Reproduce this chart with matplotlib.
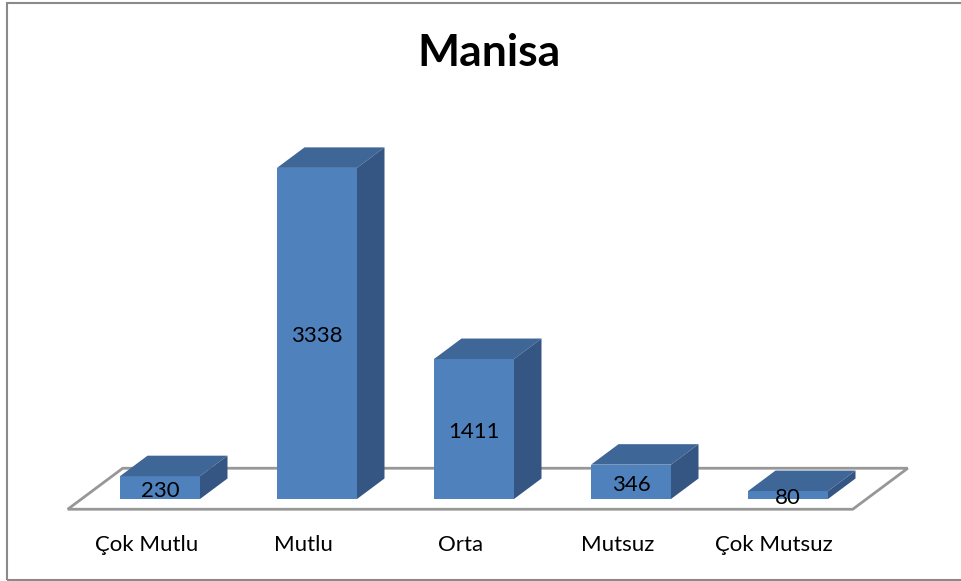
import matplotlib.pyplot as plt
from matplotlib.patches import Polygon, Rectangle
from matplotlib.transforms import offset_copy

plt.rcParams['font.family'] = ['Lato', 'DejaVu Sans']

categories = ['Çok Mutlu', 'Mutlu', 'Orta', 'Mutsuz', 'Çok Mutsuz']
values = [230, 3338, 1411, 346, 80]
title = 'Manisa'

front_color = '#4F81BD'
top_color = '#3E6697'
side_color = '#355683'
floor_color = '#979797'

W, H = 962, 581
fig = plt.figure(figsize=(W / 100, H / 100), dpi=100)
ax = fig.add_axes([0, 0, 1, 1])
ax.axis('off')

# pixel layout of the plot area: category step, value scale, origin
step = 157.0
scale = 0.0992
x0, y0 = 160.0, 499.0
ax.set_xlim(-x0 / step, (W - x0) / step)
ax.set_ylim((y0 - H) / scale, y0 / scale)

# oblique offset for one unit of depth, in data units
ddx = 55.0 / step
ddy = 41.0 / scale


def p(c, v, d):
    return (c + d * ddx, v + d * ddy)


half = 40.0 / step
bar_depth = 0.5

# floor
floor = Polygon([p(-0.5, 0, -0.25), p(4.5, 0, -0.25), p(4.5, 0, 0.75), p(-0.5, 0, 0.75)],
                closed=True, facecolor='white', edgecolor=floor_color, lw=2, zorder=1)
ax.add_patch(floor)

val_tr = offset_copy(ax.transData, fig=fig, x=0, y=-3, units='dots')
for i, v in enumerate(values):
    l, r = i - half, i + half
    front = Polygon([p(l, 0, 0), p(r, 0, 0), p(r, v, 0), p(l, v, 0)],
                    closed=True, facecolor=front_color, edgecolor='none', zorder=3)
    top = Polygon([p(l, v, 0), p(r, v, 0), p(r, v, bar_depth), p(l, v, bar_depth)],
                  closed=True, facecolor=top_color, edgecolor='none', zorder=3)
    side = Polygon([p(r, 0, 0), p(r, 0, bar_depth), p(r, v, bar_depth), p(r, v, 0)],
                   closed=True, facecolor=side_color, edgecolor='none', zorder=3)
    for patch in (front, top, side):
        ax.add_patch(patch)
    ax.text(i, v / 2, str(v), transform=val_tr, ha='center', va='center',
            fontsize=16, color='black', zorder=5)

# category labels under the front edge of the floor
lab_tr = offset_copy(ax.transData, fig=fig, x=0, y=-42, units='dots')
for i, name in enumerate(categories):
    x, y = p(i, 0, -0.25)
    ax.text(x, y, name, transform=lab_tr, ha='center', va='baseline', fontsize=16, color='black')

fig.text(489 / W, 1 - 66 / H, title, ha='center', va='baseline',
         fontsize=32, fontweight='bold', color='black')

# chart frame
fig.patches.append(Rectangle((7 / W, 1 - 580 / H), (W + 10 - 7) / W, (580 - 3) / H,
                             transform=fig.transFigure, fill=False,
                             edgecolor='#8a8a8a', lw=1.5))

fig.savefig('out.png', dpi=100)
